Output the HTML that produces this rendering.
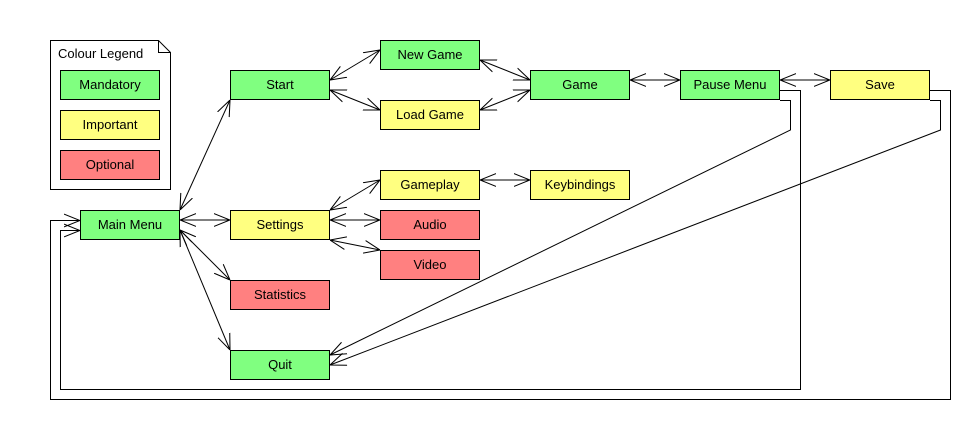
<!DOCTYPE html>
<html><head><style>
html,body{margin:0;padding:0;background:#fff;}
svg{display:block;}
text{font-family:"Liberation Sans",sans-serif;font-size:13px;fill:#000;}
</style></head><body>
<svg width="980" height="430" viewBox="0 0 980 430" xmlns="http://www.w3.org/2000/svg">
<defs>
<marker id="a" viewBox="0 0 20 20" refX="20" refY="10" markerWidth="16" markerHeight="16" markerUnits="userSpaceOnUse" orient="auto-start-reverse">
<path d="M0,2 L20,10 L0,18" fill="none" stroke="#000" stroke-width="1.3"/>
</marker>
</defs>
<g stroke="#000" stroke-width="1" fill="none">
<path d="M50.5,40.5 H158.5 L170.5,52.5 V189.5 H50.5 Z"/>
<path d="M158.5,40.5 V52.5 H170.5"/>
</g>
<text x="58" y="58">Colour Legend</text>
<g stroke="#000" stroke-width="1">
<rect x="60.5" y="70.5" width="99" height="29" fill="#80ff80"/>
<rect x="60.5" y="110.5" width="99" height="29" fill="#ffff80"/>
<rect x="60.5" y="150.5" width="99" height="29" fill="#ff8080"/>
</g>
<g text-anchor="middle">
<text x="110" y="89">Mandatory</text>
<text x="110" y="129">Important</text>
<text x="110" y="169">Optional</text>
</g>
<g stroke="#000" stroke-width="1" fill="none" marker-start="url(#a)" marker-end="url(#a)">
<line x1="180" y1="210" x2="230" y2="100"/>
<line x1="180" y1="220" x2="230" y2="220"/>
<line x1="180" y1="230" x2="230" y2="280"/>
<line x1="180" y1="230" x2="230" y2="350"/>
<line x1="330" y1="80" x2="380" y2="50"/>
<line x1="330" y1="90" x2="380" y2="110"/>
<line x1="480" y1="60" x2="530" y2="80"/>
<line x1="480" y1="110" x2="530" y2="90"/>
<line x1="630" y1="80" x2="680" y2="80"/>
<line x1="780" y1="80" x2="830" y2="80"/>
<line x1="330" y1="210" x2="380" y2="180"/>
<line x1="330" y1="220" x2="380" y2="220"/>
<line x1="330" y1="240" x2="380" y2="250"/>
<line x1="480" y1="180" x2="530" y2="180"/>
</g>
<g stroke="#000" stroke-width="1" fill="none" marker-end="url(#a)">
<polyline points="780,90.5 800.5,90.5 800.5,389.5 60.5,389.5 60.5,230.5 80,230.5"/>
<polyline points="930,90.5 950.5,90.5 950.5,399.5 50.5,399.5 50.5,220.5 80,220.5"/>
<polyline points="780,100.5 790.5,100.5 790.5,130 330,355"/>
<polyline points="930,100.5 940.5,100.5 940.5,130 330,365"/>
</g>
<g stroke="#000" stroke-width="1">
<rect x="80.5" y="210.5" width="99" height="29" fill="#80ff80"/>
<rect x="230.5" y="70.5" width="99" height="29" fill="#80ff80"/>
<rect x="230.5" y="210.5" width="99" height="29" fill="#ffff80"/>
<rect x="230.5" y="280.5" width="99" height="29" fill="#ff8080"/>
<rect x="230.5" y="350.5" width="99" height="29" fill="#80ff80"/>
<rect x="380.5" y="40.5" width="99" height="29" fill="#80ff80"/>
<rect x="380.5" y="100.5" width="99" height="29" fill="#ffff80"/>
<rect x="380.5" y="170.5" width="99" height="29" fill="#ffff80"/>
<rect x="380.5" y="210.5" width="99" height="29" fill="#ff8080"/>
<rect x="380.5" y="250.5" width="99" height="29" fill="#ff8080"/>
<rect x="530.5" y="70.5" width="99" height="29" fill="#80ff80"/>
<rect x="530.5" y="170.5" width="99" height="29" fill="#ffff80"/>
<rect x="680.5" y="70.5" width="99" height="29" fill="#80ff80"/>
<rect x="830.5" y="70.5" width="99" height="29" fill="#ffff80"/>
</g>
<g text-anchor="middle">
<text x="130" y="229">Main Menu</text>
<text x="280" y="89">Start</text>
<text x="280" y="229">Settings</text>
<text x="280" y="299">Statistics</text>
<text x="280" y="369">Quit</text>
<text x="430" y="59">New Game</text>
<text x="430" y="119">Load Game</text>
<text x="430" y="189">Gameplay</text>
<text x="430" y="229">Audio</text>
<text x="430" y="269">Video</text>
<text x="580" y="89">Game</text>
<text x="580" y="189">Keybindings</text>
<text x="730" y="89">Pause Menu</text>
<text x="880" y="89">Save</text>
</g>
</svg>
</body></html>
